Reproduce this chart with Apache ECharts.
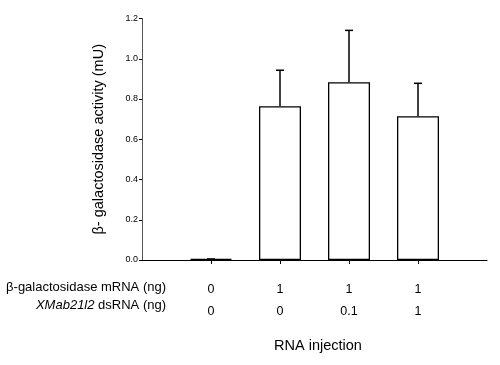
<!DOCTYPE html>
<html>
<head>
<meta charset="utf-8">
<script src="https://cdn.jsdelivr.net/npm/echarts@6/dist/echarts.min.js"></script>
<style>
html,body{margin:0;padding:0;background:#fff;}
#c{width:500px;height:365px;}
</style>
</head>
<body>
<div id="c"></div>
<script>
// Data
var categories = ['', 'g1', 'g2', 'g3', 'g4', ''];
var mRNA = ['', '0', '1', '1', '1', ''];
var dsRNA = ['', '0', '0', '0.1', '1', ''];
var activity = [null, 0.005, 0.764, 0.883, 0.714, null];
var errorTop = [null, 0.005, 0.943, 1.141, 0.878, null];
var yTicks = [0, 0.2, 0.4, 0.6, 0.8, 1.0, 1.2];
var rowTitle1 = 'β-galactosidase mRNA (ng)';
var rowTitle2Italic = 'XMab21l2';
var rowTitle2Rest = ' dsRNA (ng)';
var yTitle = 'β- galactosidase activity (mU)';
var xTitle = 'RNA injection';

var font = '"Liberation Sans", Arial, sans-serif';
var chart = echarts.init(document.getElementById('c'));

var errData = [];
for (var i = 0; i < categories.length; i++) {
  if (activity[i] != null) errData.push([i, activity[i], errorTop[i]]);
}

chart.setOption({
  animation: false,
  backgroundColor: '#fff',
  grid: {left: 142, right: 13, top: 18.5, bottom: 105},
  xAxis: {
    type: 'category',
    data: categories,
    boundaryGap: false,
    name: xTitle,
    nameLocation: 'middle',
    nameGap: 78,
    nameTextStyle: {fontFamily: font, fontSize: 14.5, color: '#000', padding: [0, 0, 0, 7]},
    axisLine: {lineStyle: {color: '#000', width: 1.2}},
    axisTick: {
      length: 4,
      lineStyle: {color: '#000'},
      interval: function (idx) { return idx >= 1 && idx <= 4; }
    },
    axisLabel: {
      interval: 0,
      margin: 19,
      formatter: function (v, idx) {
        return '{a|' + mRNA[idx] + '}\n{b|' + dsRNA[idx] + '}';
      },
      rich: {
        a: {fontFamily: font, fontSize: 12.5, color: '#000', lineHeight: 22},
        b: {fontFamily: font, fontSize: 12.5, color: '#000', lineHeight: 22}
      }
    },
    splitLine: {show: false}
  },
  yAxis: {
    type: 'value',
    min: 0,
    max: 1.2,
    interval: 0.2,
    name: yTitle,
    nameLocation: 'middle',
    nameGap: 36,
    nameTextStyle: {fontFamily: font, fontSize: 14.5, color: '#000'},
    axisLine: {show: true, lineStyle: {color: '#555', width: 1}},
    axisTick: {show: true, length: 3, lineStyle: {color: '#000'}},
    axisLabel: {
      fontFamily: font, fontSize: 9, color: '#000', margin: 4,
      formatter: function (v) { return v.toFixed(1); }
    },
    splitLine: {show: false}
  },
  graphic: [
    {
      type: 'text', right: 334, top: 281,
      style: {text: rowTitle1, font: '13px ' + font, fill: '#000', textAlign: 'right'}
    },
    {
      type: 'text', right: 334, top: 299,
      style: {
        text: '{i|' + rowTitle2Italic + '}{n|' + rowTitle2Rest + '}',
        rich: {
          i: {fontFamily: font, fontSize: 13, fontStyle: 'italic', fill: '#000'},
          n: {fontFamily: font, fontSize: 13, fill: '#000'}
        },
        fill: '#000'
      }
    }
  ],
  series: [
    {
      type: 'bar',
      data: activity,
      barWidth: 42,
      itemStyle: {color: '#fff', borderColor: '#000', borderWidth: 1.3},
      z: 2
    },
    {
      type: 'custom',
      data: errData,
      z: 3,
      renderItem: function (params, api) {
        var x = api.value(0);
        var base = api.coord([x, api.value(1)]);
        var top = api.coord([x, api.value(2)]);
        var cap = 4;
        return {
          type: 'group',
          children: [
            {type: 'line', shape: {x1: base[0], y1: base[1], x2: top[0], y2: top[1]},
             style: {stroke: '#000', lineWidth: 1.5}},
            {type: 'line', shape: {x1: top[0] - cap, y1: top[1], x2: top[0] + cap, y2: top[1]},
             style: {stroke: '#000', lineWidth: 1.5}}
          ]
        };
      }
    }
  ]
});
</script>
</body>
</html>
